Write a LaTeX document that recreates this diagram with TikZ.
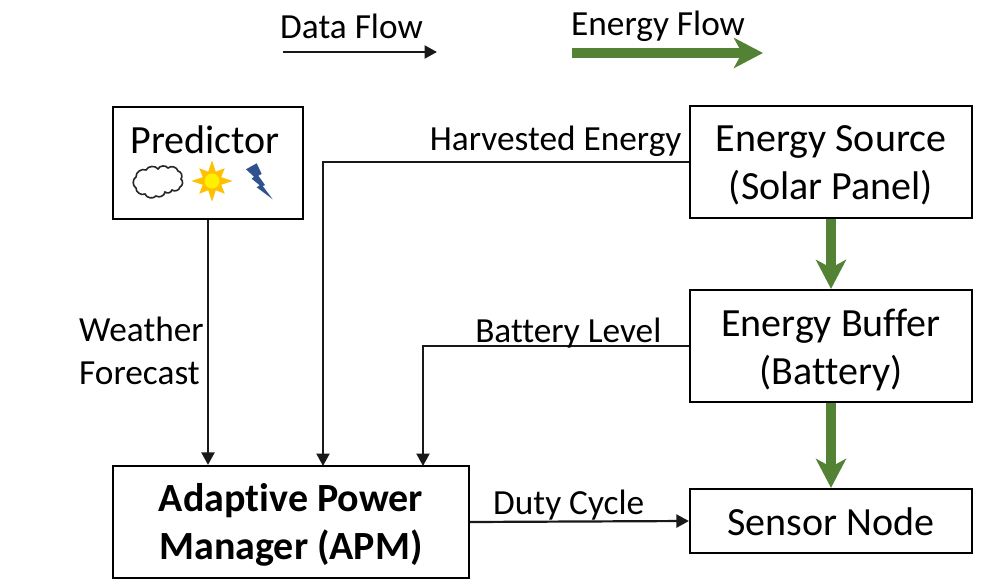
\documentclass[tikz,border=0pt]{standalone}
\usepackage{fontspec}
\setmainfont[Ligatures=NoCommon]{Carlito}
\usetikzlibrary{arrows.meta,calc}
\definecolor{energygreen}{RGB}{84,130,53}
\definecolor{boltblue}{RGB}{47,82,143}
\definecolor{sunorange}{RGB}{255,192,0}
\definecolor{sunyellow}{RGB}{255,240,0}
\newcommand{\firstline}[1]{\rule{0pt}{#1pt}}
\tikzset{
  blockbox/.style={draw=black,line width=2.2pt,fill=white,inner sep=0pt,align=center,font=\fontsize{40}{48}\selectfont},
  dataflow/.style={draw=black!90,line width=2.2pt,-{Triangle[length=12.5pt,width=13pt]}},
  energyflow/.style={draw=energygreen,line width=10pt,-{Stealth[length=29pt,width=30pt,inset=8pt]}},
  flowlabel/.style={inner sep=0pt,font=\fontsize{35.3}{43}\selectfont,align=left},
}
\begin{document}
\begin{tikzpicture}[x=1pt,y=-1pt]
\useasboundingbox (0,0) rectangle (996,588);
% blocks
\node[blockbox,minimum width=190pt,minimum height=112pt] (pred) at (208,163) {};
\node[inner sep=0pt,font=\fontsize{40}{48}\selectfont] (predtext) at (205,140) {Predictor};
\node[blockbox,minimum width=282pt,minimum height=112pt] (source) at (831,162) {\firstline{33}Energy Source\\(Solar Panel)};
\node[blockbox,minimum width=282pt,minimum height=112pt] (buffer) at (831,346) {\firstline{36}Energy Buffer\\(Battery)};
\node[blockbox,minimum width=282pt,minimum height=64pt] (sensor) at (831,521) {\firstline{30}Sensor Node};
\node[blockbox,minimum width=356pt,minimum height=112pt,font=\fontsize{40}{48}\selectfont\bfseries] (apm) at (291,522) {\firstline{34}Adaptive Power\\Manager (APM)};
% icons
\draw[line width=1.6pt,draw=black!85,fill=white]
  (136,177) to[bend left=60] (146,170) to[bend left=60] (158,169) to[bend left=60] (168,168)
  to[bend left=60] (178,171) to[bend left=60] (181,179) to[bend left=60] (180,187)
  to[bend left=60] (172,190) to[bend left=60] (165,192) to[bend left=60] (156,196)
  to[bend left=60] (145,194) to[bend left=60] (136,188) to[bend left=60] (136,177) -- cycle;
\fill[sunorange,shift={(212,181)}]
  (0:20.5) -- (22.5:10) -- (45:18) -- (67.5:10) -- (90:20.5) -- (112.5:10) -- (135:18) -- (157.5:10)
  -- (180:20.5) -- (202.5:10) -- (225:18) -- (247.5:10) -- (270:20.5) -- (292.5:10) -- (315:18) -- (337.5:10) -- cycle;
\fill[sunyellow] (212,181) circle[radius=7.5];
\fill[boltblue] (246,169.3) -- (256.7,163.3) -- (261.7,174) -- (258.3,175.7) -- (265,185) -- (262.7,186)
  -- (272.7,199.3) -- (256.7,187.3) -- (259.7,185.3) -- (251.7,178.7) -- (254,176.7) -- cycle;
% legend
\coordinate (dfa) at (283,52);
\coordinate (dfb) at (437,52);
\coordinate (efa) at (572,53);
\coordinate (efb) at (763,53);
\node[flowlabel,anchor=west] (dflabel) at (280,26.5) {Data Flow};
\node[flowlabel,anchor=west] (eflabel) at (571,26) {Energy Flow};
\draw[dataflow] (dfa) -- (dfb);
\draw[energyflow] (efa) -- (efb);
% data connectors
\coordinate (hin) at (323,466);
\coordinate (bin) at (423,466);
\draw[dataflow] (pred.south) -- (pred.south |- apm.north);
\draw[dataflow] (source.west) -| (hin);
\draw[dataflow] (buffer.west) -| (bin);
\draw[dataflow] (apm.east) -- (sensor.west);
% labels
\node[flowlabel,anchor=west] (wlabel) at (79,351) {Weather\\Forecast};
\node[flowlabel,anchor=east] (hlabel) at (681.5,141) {Harvested Energy};
\node[flowlabel,anchor=east] (blabel) at (661.5,333) {Battery Level};
\node[flowlabel,anchor=west] (dlabel) at (493,505) {Duty Cycle};
% energy connectors
\draw[energyflow] (source.south) -- (buffer.north);
\draw[energyflow] (buffer.south) -- (sensor.north);
\end{tikzpicture}
\end{document}
